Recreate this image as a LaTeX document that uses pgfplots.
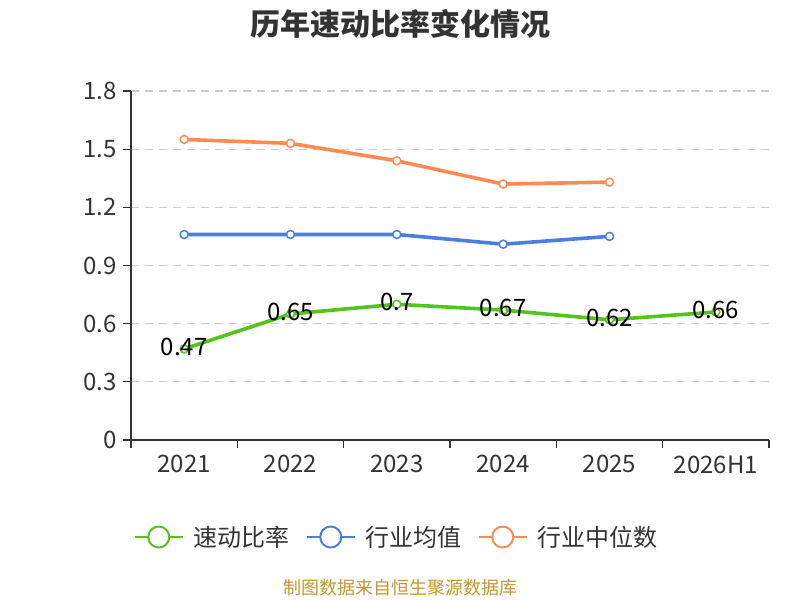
\documentclass[border=0pt]{standalone}
\usepackage{fontspec}
\setmainfont{Noto Sans CJK SC}
\usepackage{pgfplots}
\pgfplotsset{compat=1.18}
\definecolor{cgreen}{RGB}{82,196,26}
\definecolor{cblue}{RGB}{74,126,225}
\definecolor{corange}{RGB}{255,139,82}
\definecolor{ctext}{RGB}{51,51,51}
\definecolor{cgrid}{RGB}{204,204,204}
\definecolor{csrc}{RGB}{201,150,40}
\pgfplotstableread{
x y label
0 0.47 0.47
1 0.65 0.65
2 0.70 0.7
3 0.67 0.67
4 0.62 0.62
5 0.66 0.66
}\greendata
\pgfplotstableread{
x y
0 1.06
1 1.06
2 1.06
3 1.01
4 1.05
}\bluedata
\pgfplotstableread{
x y
0 1.55
1 1.53
2 1.44
3 1.32
4 1.33
}\orangedata
\begin{document}
\begin{tikzpicture}
\useasboundingbox (0,0) rectangle (800pt,600pt);
\node[font=\fontsize{30pt}{35pt}\selectfont\bfseries, text=ctext] at (400pt,576pt) {历年速动比率变化情况};
\node[font=\fontsize{18pt}{21pt}\selectfont, text=csrc] at (400pt,12pt) {制图数据来自恒生聚源数据库};
\begin{axis}[
  at={(131pt,160pt)}, anchor=south west,
  scale only axis, width=638pt, height=349pt,
  xmin=-0.5, xmax=5.5, ymin=0, ymax=1.8,
  axis x line*=bottom, axis y line*=left,
  axis line style={-, ctext, line width=1.3pt},
  xtick={0,1,2,3,4,5},
  xticklabels={2021,2022,2023,2024,2025,2026H1},
  major x tick style={draw=none},
  minor xtick={-0.5,0.5,1.5,2.5,3.5,4.5,5.5},
  minor tick length=8pt,
  minor x tick style={ctext, line width=1.3pt},
  ytick={0,0.3,0.6,0.9,1.2,1.5,1.8},
  yticklabels={0,0.3,0.6,0.9,1.2,1.5,1.8},
  major tick length=8pt,
  major y tick style={ctext, line width=1.3pt},
  tick align=outside,
  ymajorgrids=true,
  major grid style={cgrid, dash pattern=on 8pt off 6pt, line width=1.3pt},
  ticklabel style={font=\fontsize{24pt}{28pt}\selectfont, text=ctext},
  xticklabel style={yshift=-4pt},
  yticklabel style={xshift=-3pt},
  clip=false,
  legend columns=3,
  legend image code/.code={
    \draw[#1, line width=2pt] (0pt,0pt) -- (48pt,0pt);
    \draw[#1, fill=white, line width=2pt] (24pt,0pt) circle (10.5pt);
  },
  legend style={at={(0.004,-0.278)}, anchor=west, draw=none, fill=none,
    inner sep=0pt, font=\fontsize{24pt}{28pt}\selectfont, text=ctext,
    /tikz/every odd column/.append style={column sep=8pt},
    /tikz/every even column/.append style={column sep=14pt}},
]
\addplot[cgreen, line width=3.6pt, mark=*, mark size=4pt,
  mark options={fill=white, draw=cgreen, line width=1.5pt},
  nodes near coords, point meta=explicit symbolic,
  every node near coord/.append style={anchor=center, yshift=2pt,
    font=\fontsize{24pt}{28pt}\selectfont, text=black}]
  table[x=x, y=y, meta=label] {\greendata};
\addlegendentry{速动比率}
\addplot[cblue, line width=3.6pt, mark=*, mark size=4pt,
  mark options={fill=white, draw=cblue, line width=1.5pt}]
  table[x=x, y=y] {\bluedata};
\addlegendentry{行业均值}
\addplot[corange, line width=3.6pt, mark=*, mark size=4pt,
  mark options={fill=white, draw=corange, line width=1.5pt}]
  table[x=x, y=y] {\orangedata};
\addlegendentry{行业中位数}
\end{axis}
\end{tikzpicture}
\end{document}
